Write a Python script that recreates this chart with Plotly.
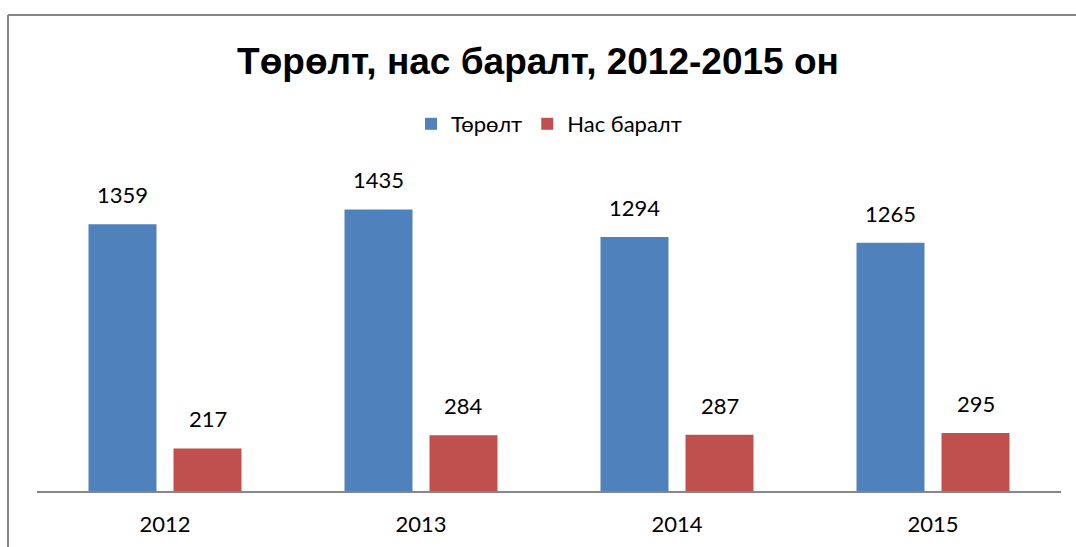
import plotly.graph_objects as go

years = ["2012", "2013", "2014", "2015"]
births = [1359, 1435, 1294, 1265]
deaths = [217, 284, 287, 295]
series_names = ["Төрөлт", "Нас баралт"]
title_text = "Төрөлт, нас баралт, 2012-2015 он"

BLUE = "#4F81BD"
RED = "#C0504D"
GRAY = "#868686"
LABEL_FONT = "Lato, Calibri, Carlito, sans-serif"

fig = go.Figure()
fig.add_trace(go.Bar(x=years, y=births, name=series_names[0], marker_color=BLUE,
                     marker_line_width=0))
fig.add_trace(go.Bar(x=years, y=deaths, name=series_names[1], marker_color=RED,
                     marker_line_width=0))

annotations = []
for vals, shift in ((births, -42.5), (deaths, 42.5)):
    for idx, v in enumerate(vals):  # idx = category index on the category axis
        annotations.append(dict(x=idx, y=v, xref="x", yref="y", text=str(v),
                                showarrow=False, xshift=shift, yshift=14,
                                yanchor="bottom",
                                font=dict(family=LABEL_FONT, size=22, color="#000")))

W, H = 1076, 547
L, R, T, B = 37, 15, 177, 56
pw, ph = W - L - R, H - T - B

def px_x(p):
    return (p - L) / pw

def px_y(p):
    return (H - B - p) / ph

shapes = [
    dict(type="line", xref="paper", yref="paper", x0=px_x(8), x1=px_x(8),
         y0=px_y(15), y1=px_y(560), line=dict(color=GRAY, width=2)),
    dict(type="line", xref="paper", yref="paper", x0=px_x(8), x1=px_x(1090),
         y0=px_y(15), y1=px_y(15), line=dict(color=GRAY, width=2)),
]

fig.update_layout(
    width=W, height=H,
    margin=dict(l=L, r=R, t=T, b=B, autoexpand=False),
    paper_bgcolor="white", plot_bgcolor="white",
    barmode="group", bargap=0.336, bargroupgap=0.2,
    title=dict(text=f"<b>{title_text}</b>", x=0.5, xanchor="center",
               y=1 - 61 / H, yanchor="middle", yref="container",
               font=dict(family="Liberation Sans, Arial, sans-serif", size=37, color="#000")),
    legend=dict(orientation="h", x=0.5, xanchor="center", y=px_y(124), yanchor="middle",
                font=dict(family=LABEL_FONT, size=22, color="#000"),
                itemwidth=30, bgcolor="rgba(0,0,0,0)"),
    xaxis=dict(type="category", categoryorder="array", categoryarray=years,
               range=[-0.5, len(years) - 0.5],
               showline=True, linecolor=GRAY, linewidth=2,
               ticks="outside", ticklen=13, tickcolor="rgba(0,0,0,0)",
               tickfont=dict(family=LABEL_FONT, size=22, color="#000"),
               showgrid=False, automargin=False),
    yaxis=dict(range=[0, 1600], visible=False, showgrid=False, zeroline=False),
    annotations=annotations,
    shapes=shapes,
)

fig.write_html("out.html", config={"displayModeBar": False},
               post_script="document.body.style.margin='0px';")
